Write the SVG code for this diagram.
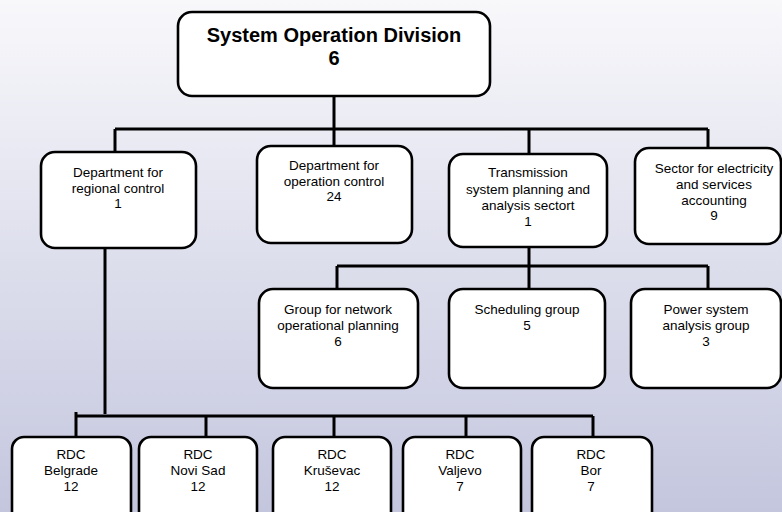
<svg xmlns="http://www.w3.org/2000/svg" width="782" height="512" viewBox="0 0 782 512">
<defs>
<linearGradient id="bg" x1="0" y1="0" x2="0" y2="1">
<stop offset="0" stop-color="#f8f8fb"/>
<stop offset="1" stop-color="#c4c6de"/>
</linearGradient>
<style>
.box{fill:#fff;stroke:#000;stroke-width:2.6}
.t{font-family:"Liberation Sans",Arial,sans-serif;font-size:13.5px;fill:#000;text-anchor:middle}
.h{font-family:"Liberation Sans",Arial,sans-serif;font-size:20px;font-weight:bold;fill:#000;text-anchor:middle}
.c{fill:none;stroke:#000;stroke-width:3}
</style>
</defs>
<rect width="782" height="512" fill="url(#bg)"/>
<g id="connectors">
<path class="c" d="M334 96V129M115 129H708M115 129V152M334 129V146M529 129V154M708 129V148"/>
<path class="c" d="M529 247V266M337 266H708M337 266V289M529 266V289M708 266V289"/>
<path class="c" d="M105 248V414M76 416H593M76 412V437M206 416V437M334 416V437M466 416V437M593 416V437"/>
</g>
<g id="n-division">
<rect class="box" x="178" y="12" width="312" height="84" rx="14"/>
<text class="h" x="334" y="42">System Operation Division</text>
<text class="h" x="334" y="65">6</text>
</g>
<g id="n-regional">
<rect class="box" x="41" y="152" width="155" height="96" rx="14"/>
<text class="t" x="118" y="177">Department for</text>
<text class="t" x="118" y="192.5">regional control</text>
<text class="t" x="118" y="208">1</text>
</g>
<g id="n-operation">
<rect class="box" x="257" y="146" width="155" height="97" rx="14"/>
<text class="t" x="334" y="170">Department for</text>
<text class="t" x="334" y="185.5">operation control</text>
<text class="t" x="334" y="201">24</text>
</g>
<g id="n-transmission">
<rect class="box" x="449" y="154" width="158" height="93" rx="14"/>
<text class="t" x="528" y="177">Transmission</text>
<text class="t" x="528" y="193.5">system planning and</text>
<text class="t" x="528" y="210">analysis sectort</text>
<text class="t" x="528" y="226">1</text>
</g>
<g id="n-sector">
<rect class="box" x="635" y="148" width="146" height="96" rx="14"/>
<text class="t" x="714" y="173">Sector for electricity</text>
<text class="t" x="714" y="189">and services</text>
<text class="t" x="714" y="204.5">accounting</text>
<text class="t" x="714" y="220">9</text>
</g>
<g id="n-network">
<rect class="box" x="259" y="289" width="159" height="99" rx="14"/>
<text class="t" x="338" y="313.5">Group for network</text>
<text class="t" x="338" y="330">operational planning</text>
<text class="t" x="338" y="346">6</text>
</g>
<g id="n-scheduling">
<rect class="box" x="449" y="289" width="156" height="99" rx="14"/>
<text class="t" x="527" y="313.5">Scheduling group</text>
<text class="t" x="527" y="330">5</text>
</g>
<g id="n-power">
<rect class="box" x="631" y="289" width="150" height="99" rx="14"/>
<text class="t" x="706" y="313.5">Power system</text>
<text class="t" x="706" y="330">analysis group</text>
<text class="t" x="706" y="346">3</text>
</g>
<g id="n-belgrade">
<rect class="box" x="12" y="437" width="119" height="90" rx="12"/>
<text class="t" x="71" y="459">RDC</text>
<text class="t" x="71" y="475">Belgrade</text>
<text class="t" x="71" y="490.5">12</text>
</g>
<g id="n-novisad">
<rect class="box" x="139" y="437" width="118" height="90" rx="12"/>
<text class="t" x="198" y="459">RDC</text>
<text class="t" x="198" y="475">Novi Sad</text>
<text class="t" x="198" y="490.5">12</text>
</g>
<g id="n-krusevac">
<rect class="box" x="273" y="437" width="118" height="90" rx="12"/>
<text class="t" x="332" y="459">RDC</text>
<text class="t" x="332" y="475">Kruševac</text>
<text class="t" x="332" y="490.5">12</text>
</g>
<g id="n-valjevo">
<rect class="box" x="403" y="437" width="118" height="90" rx="12"/>
<text class="t" x="460" y="459">RDC</text>
<text class="t" x="460" y="475">Valjevo</text>
<text class="t" x="460" y="490.5">7</text>
</g>
<g id="n-bor">
<rect class="box" x="532" y="437" width="120" height="90" rx="12"/>
<text class="t" x="591" y="459">RDC</text>
<text class="t" x="591" y="475">Bor</text>
<text class="t" x="591" y="490.5">7</text>
</g>
</svg>
